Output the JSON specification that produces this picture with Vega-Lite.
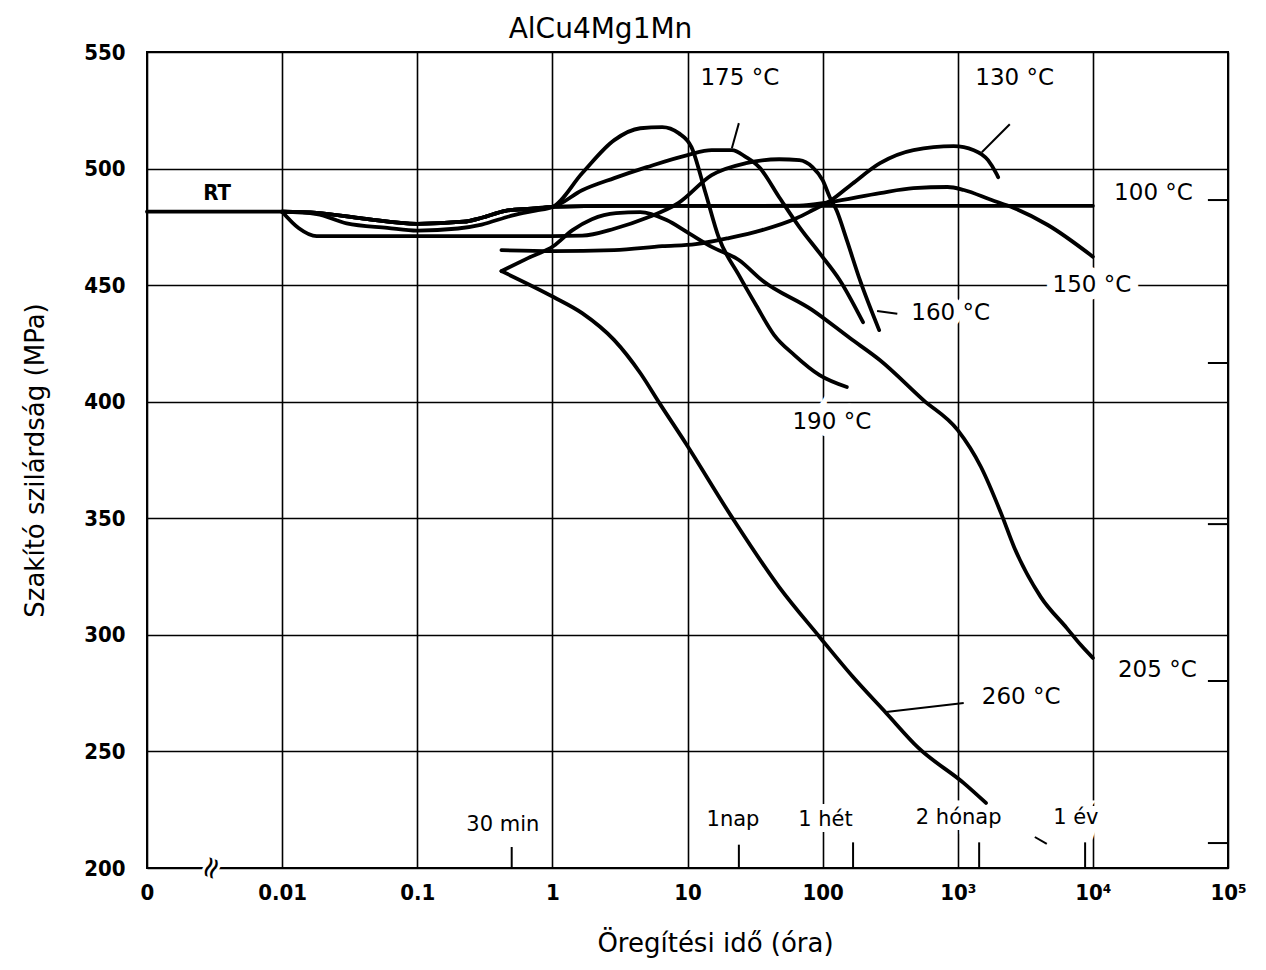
{
  "$schema": "https://vega.github.io/schema/vega-lite/v6.json",
  "width": 1081,
  "height": 816,
  "autosize": "none",
  "padding": {"left": 147, "top": 52, "right": 38, "bottom": 102},
  "background": "white",
  "config": {"view": {"stroke": "black", "strokeWidth": 2}},
  "title": {"text": "AlCu4Mg1Mn", "font": "DejaVu Sans", "fontSize": 28, "fontWeight": "normal", "color": "black", "anchor": "middle", "dx": -87, "dy": 13, "offset": 10},
  "datasets": {
    "curves": [
      {"curve": "RT", "t": 0.001, "S": 481.5}, {"curve": "RT", "t": 0.01, "S": 481.5},
      {"curve": "100 °C", "t": 0.01, "S": 481.5}, {"curve": "100 °C", "t": 0.018, "S": 481.0}, {"curve": "100 °C", "t": 0.04, "S": 478.5}, {"curve": "100 °C", "t": 0.1, "S": 476.3}, {"curve": "100 °C", "t": 0.22, "S": 477.2}, {"curve": "100 °C", "t": 0.3, "S": 478.9}, {"curve": "100 °C", "t": 0.45, "S": 481.9}, {"curve": "100 °C", "t": 0.7, "S": 482.8}, {"curve": "100 °C", "t": 1, "S": 483.6}, {"curve": "100 °C", "t": 3, "S": 484.0}, {"curve": "100 °C", "t": 100, "S": 484.0}, {"curve": "100 °C", "t": 10000, "S": 484.0},
      {"curve": "150 °C", "t": 0.01, "S": 481.5}, {"curve": "150 °C", "t": 0.018, "S": 481.0}, {"curve": "150 °C", "t": 0.04, "S": 478.5}, {"curve": "150 °C", "t": 0.1, "S": 476.3}, {"curve": "150 °C", "t": 0.22, "S": 477.2}, {"curve": "150 °C", "t": 0.3, "S": 478.9}, {"curve": "150 °C", "t": 0.45, "S": 481.9}, {"curve": "150 °C", "t": 0.7, "S": 482.8}, {"curve": "150 °C", "t": 1, "S": 483.6}, {"curve": "150 °C", "t": 3, "S": 484.0}, {"curve": "150 °C", "t": 20, "S": 484.0}, {"curve": "150 °C", "t": 67, "S": 484.1}, {"curve": "150 °C", "t": 113, "S": 485.6}, {"curve": "150 °C", "t": 266, "S": 489.5}, {"curve": "150 °C", "t": 470, "S": 491.6}, {"curve": "150 °C", "t": 841, "S": 492.1}, {"curve": "150 °C", "t": 1109, "S": 490.8}, {"curve": "150 °C", "t": 1762, "S": 486.6}, {"curve": "150 °C", "t": 2600, "S": 483.1}, {"curve": "150 °C", "t": 4640, "S": 475.8}, {"curve": "150 °C", "t": 10000, "S": 462.2},
      {"curve": "175 °C", "t": 0.01, "S": 481.5}, {"curve": "175 °C", "t": 0.018, "S": 481.0}, {"curve": "175 °C", "t": 0.04, "S": 478.5}, {"curve": "175 °C", "t": 0.1, "S": 476.3}, {"curve": "175 °C", "t": 0.22, "S": 477.2}, {"curve": "175 °C", "t": 0.3, "S": 478.9}, {"curve": "175 °C", "t": 0.45, "S": 481.9}, {"curve": "175 °C", "t": 0.7, "S": 482.8}, {"curve": "175 °C", "t": 1, "S": 483.6}, {"curve": "175 °C", "t": 1.66, "S": 490.7}, {"curve": "175 °C", "t": 2.87, "S": 495.9}, {"curve": "175 °C", "t": 5.0, "S": 500.6}, {"curve": "175 °C", "t": 10, "S": 505.8}, {"curve": "175 °C", "t": 15.1, "S": 507.9}, {"curve": "175 °C", "t": 21.3, "S": 507.9}, {"curve": "175 °C", "t": 27.1, "S": 504.9}, {"curve": "175 °C", "t": 33.9, "S": 500.6}, {"curve": "175 °C", "t": 47.7, "S": 487.7}, {"curve": "175 °C", "t": 67.3, "S": 474.9}, {"curve": "175 °C", "t": 95, "S": 463.7}, {"curve": "175 °C", "t": 134, "S": 452.1}, {"curve": "175 °C", "t": 199, "S": 434.1},
      {"curve": "190 °C", "t": 0.01, "S": 481.5}, {"curve": "190 °C", "t": 0.018, "S": 480.5}, {"curve": "190 °C", "t": 0.03, "S": 476.5}, {"curve": "190 °C", "t": 0.06, "S": 474.6}, {"curve": "190 °C", "t": 0.1, "S": 473.4}, {"curve": "190 °C", "t": 0.2, "S": 474.3}, {"curve": "190 °C", "t": 0.3, "S": 476.0}, {"curve": "190 °C", "t": 0.5, "S": 479.8}, {"curve": "190 °C", "t": 0.75, "S": 482.0}, {"curve": "190 °C", "t": 1, "S": 483.5}, {"curve": "190 °C", "t": 1.66, "S": 498.0}, {"curve": "190 °C", "t": 2.87, "S": 512.2}, {"curve": "190 °C", "t": 4.47, "S": 517.3}, {"curve": "190 °C", "t": 6.5, "S": 517.8}, {"curve": "190 °C", "t": 8.6, "S": 515.2}, {"curve": "190 °C", "t": 10.7, "S": 509.2}, {"curve": "190 °C", "t": 13.6, "S": 489.5}, {"curve": "190 °C", "t": 17, "S": 470.6}, {"curve": "190 °C", "t": 24, "S": 454.3}, {"curve": "190 °C", "t": 32.2, "S": 441.4}, {"curve": "190 °C", "t": 43.8, "S": 428.6}, {"curve": "190 °C", "t": 61.8, "S": 420.0}, {"curve": "190 °C", "t": 95, "S": 411.4}, {"curve": "190 °C", "t": 151, "S": 406.3},
      {"curve": "160 °C", "t": 0.01, "S": 481.5}, {"curve": "160 °C", "t": 0.0133, "S": 474.4}, {"curve": "160 °C", "t": 0.018, "S": 471.0}, {"curve": "160 °C", "t": 0.05, "S": 471.0}, {"curve": "160 °C", "t": 0.2, "S": 471.0}, {"curve": "160 °C", "t": 1, "S": 471.0}, {"curve": "160 °C", "t": 1.66, "S": 471.2}, {"curve": "160 °C", "t": 2.87, "S": 474.2}, {"curve": "160 °C", "t": 5.0, "S": 478.9}, {"curve": "160 °C", "t": 8.6, "S": 485.3}, {"curve": "160 °C", "t": 15.1, "S": 497.2}, {"curve": "160 °C", "t": 27.1, "S": 502.3}, {"curve": "160 °C", "t": 47.7, "S": 504.0}, {"curve": "160 °C", "t": 67.3, "S": 503.6}, {"curve": "160 °C", "t": 84.1, "S": 500.6}, {"curve": "160 °C", "t": 100, "S": 495.0}, {"curve": "160 °C", "t": 113, "S": 487.7}, {"curve": "160 °C", "t": 127, "S": 482.0}, {"curve": "160 °C", "t": 151, "S": 469.3}, {"curve": "160 °C", "t": 189, "S": 452.1}, {"curve": "160 °C", "t": 262, "S": 430.7},
      {"curve": "130 °C", "t": 0.42, "S": 465.0}, {"curve": "130 °C", "t": 1, "S": 464.6}, {"curve": "130 °C", "t": 2.87, "S": 465.0}, {"curve": "130 °C", "t": 6.5, "S": 466.7}, {"curve": "130 °C", "t": 11.5, "S": 467.6}, {"curve": "130 °C", "t": 20.2, "S": 470.2}, {"curve": "130 °C", "t": 35.6, "S": 473.6}, {"curve": "130 °C", "t": 64, "S": 478.7}, {"curve": "130 °C", "t": 84, "S": 482.1}, {"curve": "130 °C", "t": 113, "S": 486.0}, {"curve": "130 °C", "t": 166, "S": 493.5}, {"curve": "130 °C", "t": 266, "S": 502.3}, {"curve": "130 °C", "t": 470, "S": 507.9}, {"curve": "130 °C", "t": 933, "S": 509.6}, {"curve": "130 °C", "t": 1315, "S": 507.9}, {"curve": "130 °C", "t": 1675, "S": 503.6}, {"curve": "130 °C", "t": 1923, "S": 498.0}, {"curve": "130 °C", "t": 1990, "S": 496.3},
      {"curve": "205 °C", "t": 0.42, "S": 456.0}, {"curve": "205 °C", "t": 0.66, "S": 461.6}, {"curve": "205 °C", "t": 1.02, "S": 466.8}, {"curve": "205 °C", "t": 1.41, "S": 473.6}, {"curve": "205 °C", "t": 1.96, "S": 478.3}, {"curve": "205 °C", "t": 2.96, "S": 480.9}, {"curve": "205 °C", "t": 4.47, "S": 481.3}, {"curve": "205 °C", "t": 7.0, "S": 477.9}, {"curve": "205 °C", "t": 10.2, "S": 472.3}, {"curve": "205 °C", "t": 15.1, "S": 466.4}, {"curve": "205 °C", "t": 24, "S": 460.8}, {"curve": "205 °C", "t": 35.6, "S": 452.1}, {"curve": "205 °C", "t": 84, "S": 439.3}, {"curve": "205 °C", "t": 159, "S": 427.3}, {"curve": "205 °C", "t": 266, "S": 417.8}, {"curve": "205 °C", "t": 557, "S": 400.7}, {"curve": "205 °C", "t": 1000, "S": 387.8}, {"curve": "205 °C", "t": 1486, "S": 372.0}, {"curve": "205 °C", "t": 2090, "S": 352.2}, {"curve": "205 °C", "t": 2610, "S": 337.7}, {"curve": "205 °C", "t": 4120, "S": 316.2}, {"curve": "205 °C", "t": 6410, "S": 302.9}, {"curve": "205 °C", "t": 8150, "S": 295.6}, {"curve": "205 °C", "t": 10000, "S": 290.1},
      {"curve": "260 °C", "t": 0.42, "S": 456.0}, {"curve": "260 °C", "t": 1.02, "S": 444.9}, {"curve": "260 °C", "t": 1.66, "S": 438.0}, {"curve": "260 °C", "t": 2.87, "S": 426.4}, {"curve": "260 °C", "t": 4.47, "S": 412.3}, {"curve": "260 °C", "t": 6.2, "S": 399.4}, {"curve": "260 °C", "t": 9.7, "S": 382.2}, {"curve": "260 °C", "t": 21.3, "S": 350.5}, {"curve": "260 °C", "t": 47.7, "S": 320.5}, {"curve": "260 °C", "t": 95, "S": 299.1}, {"curve": "260 °C", "t": 168, "S": 281.9}, {"curve": "260 °C", "t": 295, "S": 266.5}, {"curve": "260 °C", "t": 512, "S": 251.5}, {"curve": "260 °C", "t": 1109, "S": 236.4}, {"curve": "260 °C", "t": 1617, "S": 227.9}
    ],
    "tlabels": [
      {"label": "175 °C", "t": 24.4, "S": 538.8},
      {"label": "130 °C", "t": 2640, "S": 538.8},
      {"label": "100 °C", "t": 28100, "S": 489.5},
      {"label": "150 °C", "t": 9840, "S": 450.0},
      {"label": "160 °C", "t": 887, "S": 438.0},
      {"label": "190 °C", "t": 117, "S": 391.3},
      {"label": "205 °C", "t": 30000, "S": 284.9},
      {"label": "260 °C", "t": 2950, "S": 273.3}
    ],
    "timelabels": [
      {"label": "30 min", "t": 0.43, "S": 218.4},
      {"label": "1nap", "t": 21.7, "S": 220.6},
      {"label": "1 hét", "t": 105, "S": 220.6},
      {"label": "2 hónap", "t": 1016, "S": 221.4},
      {"label": "1 év", "t": 7480, "S": 221.4}
    ],
    "rt": [{"label": "RT", "t": 0.0033, "S": 489.5}],
    "brk": [{"label": "≈", "t": 0.003, "S": 200}],
    "segs": [
      {"kind": "leader 175", "t": 24.0, "S": 519.5, "t2": 21.3, "S2": 508.7},
      {"kind": "leader 130", "t": 2427, "S": 519.0, "t2": 1507, "S2": 507.0},
      {"kind": "leader 160", "t": 253, "S": 438.9, "t2": 357, "S2": 437.7},
      {"kind": "leader 260", "t": 295, "S": 266.9, "t2": 1107, "S2": 270.8},
      {"kind": "30 min", "t": 0.5, "S": 200, "t2": 0.5, "S2": 209},
      {"kind": "1 nap", "t": 24, "S": 200, "t2": 24, "S2": 210},
      {"kind": "1 hét", "t": 168, "S": 200, "t2": 168, "S2": 211},
      {"kind": "2 hónap", "t": 1440, "S": 200, "t2": 1440, "S2": 211},
      {"kind": "1 év", "t": 8760, "S": 200, "t2": 8760, "S2": 211},
      {"kind": "mark", "t": 3720, "S": 213.3, "t2": 4560, "S2": 210.3},
      {"kind": "frame", "t": 71000, "S": 486.5, "t2": 100000, "S2": 486.5},
      {"kind": "frame", "t": 71000, "S": 416.6, "t2": 100000, "S2": 416.6},
      {"kind": "frame", "t": 71000, "S": 347.5, "t2": 100000, "S2": 347.5},
      {"kind": "frame", "t": 71000, "S": 280.2, "t2": 100000, "S2": 280.2},
      {"kind": "frame", "t": 71000, "S": 210.7, "t2": 100000, "S2": 210.7}
    ]
  },
  "encoding": {
    "x": {
      "field": "t", "type": "quantitative",
      "scale": {"type": "log", "domain": [0.001, 100000], "nice": false},
      "axis": {
        "values": [0.001, 0.01, 0.1, 1, 10, 100, 1000, 10000, 100000],
        "labelExpr": "datum.value < 0.005 ? '0' : datum.value < 0.05 ? '0.01' : datum.value < 0.5 ? '0.1' : datum.value < 5 ? '1' : datum.value < 50 ? '10' : datum.value < 500 ? '100' : datum.value < 5000 ? '10³' : datum.value < 50000 ? '10⁴' : '10⁵'",
        "grid": true, "gridColor": "black", "gridWidth": 1.6, "gridOpacity": 1,
        "domain": false, "ticks": false,
        "labelFont": "DejaVu Sans Condensed", "labelFontSize": 22, "labelFontWeight": "bold", "labelColor": "black", "labelPadding": 14, "labelFlush": false, "labelOverlap": false,
        "title": "Öregítési idő (óra)", "titleFont": "DejaVu Sans", "titleFontSize": 26, "titleFontWeight": "normal", "titleColor": "black", "titlePadding": 27, "titleX": 568
      }
    },
    "y": {
      "field": "S", "type": "quantitative",
      "scale": {"domain": [200, 550], "nice": false, "zero": false},
      "axis": {
        "values": [200, 250, 300, 350, 400, 450, 500, 550],
        "grid": true, "gridColor": "black", "gridWidth": 1.6, "gridOpacity": 1,
        "domain": false, "ticks": false,
        "labelFont": "DejaVu Sans Condensed", "labelFontSize": 22, "labelFontWeight": "bold", "labelColor": "black", "labelPadding": 22,
        "title": "Szakító szilárdság (MPa)", "titleFont": "DejaVu Sans", "titleFontSize": 26, "titleFontWeight": "normal", "titleColor": "black", "titlePadding": 35
      }
    }
  },
  "layer": [
    {"data": {"name": "tlabels"}, "mark": {"type": "text", "font": "DejaVu Sans", "fontSize": 23, "color": "white", "stroke": "white", "strokeWidth": 16, "align": "center", "baseline": "middle"}, "encoding": {"text": {"field": "label"}}},
    {"data": {"name": "timelabels"}, "mark": {"type": "text", "font": "DejaVu Sans", "fontSize": 21, "color": "white", "stroke": "white", "strokeWidth": 12, "align": "center", "baseline": "middle"}, "encoding": {"text": {"field": "label"}}},
    {"data": {"name": "brk"}, "mark": {"type": "text", "font": "DejaVu Sans", "fontSize": 30, "color": "white", "stroke": "white", "strokeWidth": 6, "align": "center", "baseline": "middle", "angle": -70}, "encoding": {"text": {"field": "label"}}},
    {"data": {"name": "segs"}, "mark": {"type": "rule", "color": "black", "strokeWidth": 2}, "encoding": {"x2": {"field": "t2"}, "y2": {"field": "S2"}, "detail": {"field": "kind"}}},
    {"data": {"name": "curves"}, "mark": {"type": "line", "color": "black", "strokeWidth": 3.8, "interpolate": "monotone", "strokeCap": "round", "strokeJoin": "round"}, "encoding": {"detail": {"field": "curve"}}},
    {"data": {"name": "tlabels"}, "mark": {"type": "text", "font": "DejaVu Sans", "fontSize": 23, "color": "black", "align": "center", "baseline": "middle"}, "encoding": {"text": {"field": "label"}}},
    {"data": {"name": "timelabels"}, "mark": {"type": "text", "font": "DejaVu Sans", "fontSize": 21, "color": "black", "align": "center", "baseline": "middle"}, "encoding": {"text": {"field": "label"}}},
    {"data": {"name": "rt"}, "mark": {"type": "text", "font": "DejaVu Sans Condensed", "fontSize": 22, "fontWeight": "bold", "color": "black", "align": "center", "baseline": "middle"}, "encoding": {"text": {"field": "label"}}},
    {"data": {"name": "brk"}, "mark": {"type": "text", "font": "DejaVu Sans", "fontSize": 30, "color": "black", "align": "center", "baseline": "middle", "angle": -70}, "encoding": {"text": {"field": "label"}}}
  ]
}
